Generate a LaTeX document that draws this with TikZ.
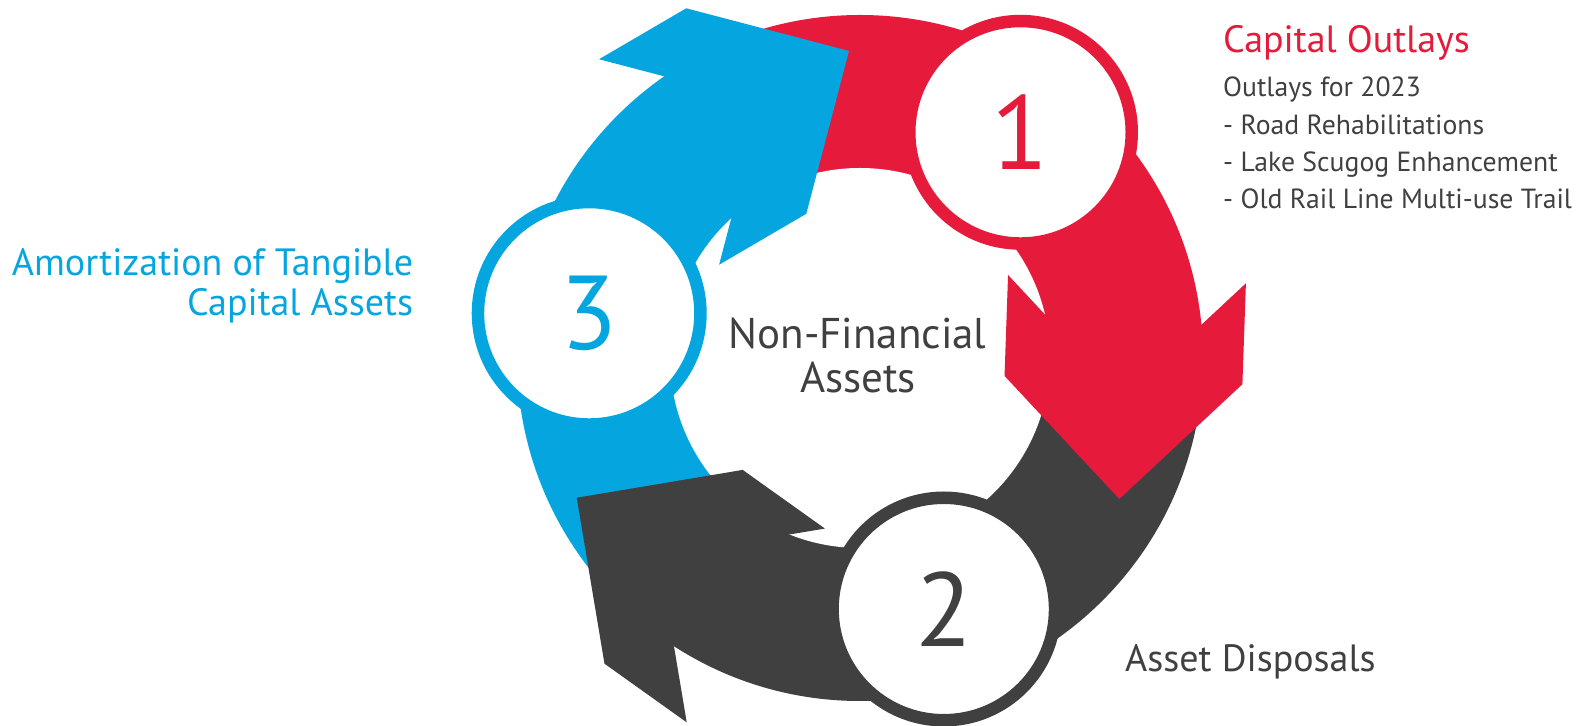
\documentclass[tikz,border=0pt]{standalone}
\usepackage{fontspec}
\setmainfont{PT Sans}
\usetikzlibrary{calc}

\definecolor{cycred}{HTML}{E61B3C}
\definecolor{cycblue}{HTML}{05A6E0}
\definecolor{cycdark}{HTML}{404040}
\definecolor{txtgray}{HTML}{404040}

\newcommand{\fsize}[1]{\fontsize{#1}{#1}\selectfont}

\begin{document}
\begin{tikzpicture}[x=1pt, y=1pt,
    stepnum/.style={circle, fill=white, line width=12.5pt, minimum size=222.5pt, inner sep=0pt, font=\fsize{105pt}},
    heading/.style={font=\fsize{38pt}, inner sep=0pt},
    item/.style={font=\fsize{27.7pt}, text=txtgray, inner sep=0pt, anchor=base west},
    redhead/.style={shift={(1119.3,226)}, rotate=-92},
    darkhead/.style={shift={(576.7,227.3)}, rotate=144.5},
    bluehead/.style={shift={(849,674)}, rotate=30.3}
  ]
  \path[use as bounding box, fill=white] (0,0) rectangle (1578,725);

  % ring centre; each head gives a cut line (out - notch - in) lying under it
  \coordinate (O) at (860,367);
  \path[redhead]  (-235,150) coordinate (rO) (-85,0) coordinate (rN) (-235,-150) coordinate (rI);
  \path[darkhead] (-235,150) coordinate (dO) (-85,0) coordinate (dN) (-235,-150) coordinate (dI);
  \path[bluehead] (-235,150) coordinate (bO) (-85,0) coordinate (bN) (-235,-150) coordinate (bI);

  % the three bands of the ring
  \begin{scope}
    \clip (O) circle[radius=343];
    \fill[cycred]  (bO) -- (bN) -- (bI) -- (O) -- (rI) -- (rN) -- (rO) -- ($(O)+(70:800)$) -- cycle;
    \fill[cycdark] (rO) -- (rN) -- (rI) -- (O) -- (dI) -- (dN) -- (dO) -- ($(O)+(-55:800)$) -- cycle;
    \fill[cycblue] (dO) -- (dN) -- (dI) -- (O) -- (bI) -- (bN) -- (bO) -- ($(O)+(-171:800)$) -- cycle;
  \end{scope}
  \fill[white] (O) circle[radius=190];

  % arrow heads
  \fill[cycred, redhead] (0,0) -- (-119,119) -- (-220,119) -- (-101,0) -- (-220,-119) -- (-119,-119) -- cycle;
  \fill[cycdark, darkhead] (0,0) -- (-119,119) -- (-220,119) -- (-101,0) -- (-220,-119) -- (-119,-119) -- cycle;
  \fill[cycblue, bluehead] (0,0) -- (-119,119) -- (-220,119) -- (-101,0) -- (-220,-119) -- (-119,-119) -- cycle;

  % numbered discs
  \node[stepnum, draw=cycred, text=cycred]   (one)   at (1020.5,592.7) {1};
  \node[stepnum, draw=cycdark, text=cycdark] (two)   at (943.8,116)    {2};
  \node[stepnum, draw=cycblue, text=cycblue] (three) at (589.2,411.7)  {3};

  \node[font=\fsize{43pt}, text=txtgray, inner sep=0pt, anchor=base] (nfa)  at (857.5,376) {Non-Financial};
  \node[font=\fsize{43pt}, text=txtgray, inner sep=0pt, anchor=base] (nfa2) at (858,332.5) {Assets};

  % labels
  \node[heading, text=cycred, anchor=base west] (outlays) at (1223,672.3) {Capital Outlays};
  \foreach \line [count=\i] in {Outlays for 2023, - Road Rehabilitations, - Lake Scugog Enhancement, - Old Rail Line Multi-use Trail}
    \node[item] (item\i) at (1223,{665.7-37.4*\i}) {\line};

  \node[heading, text=cycblue, anchor=base east] (amort)  at (413.3,449) {Amortization of Tangible};
  \node[heading, text=cycblue, anchor=base east] (amort2) at (413.3,409) {Capital Assets};

  \node[font=\fsize{38pt}, text=txtgray, inner sep=0pt, anchor=base west] (disposals) at (1125,53.3) {Asset Disposals};
\end{tikzpicture}
\end{document}
